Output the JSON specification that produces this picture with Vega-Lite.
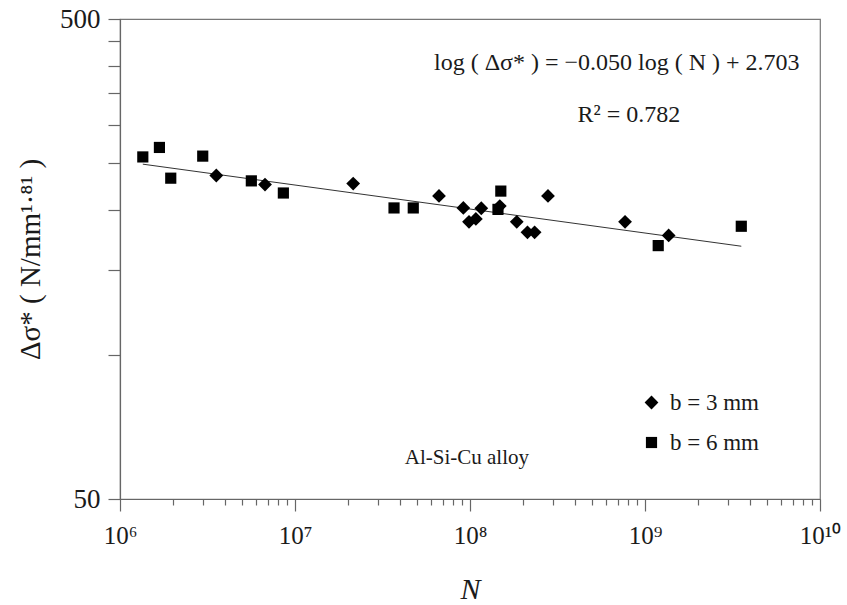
{
  "$schema": "https://vega.github.io/schema/vega-lite/v6.json",
  "width": 700,
  "height": 480,
  "autosize": "none",
  "padding": {"left": 120, "top": 19, "right": 27, "bottom": 106},
  "background": "white",
  "config": {
    "font": "Liberation Serif",
    "view": {"stroke": "#777777", "strokeWidth": 1.2},
    "axis": {
      "grid": false,
      "domainColor": "#666666",
      "domainWidth": 1.2,
      "tickColor": "#666666",
      "tickWidth": 1.2,
      "labelFont": "Liberation Serif",
      "labelColor": "#1a1a1a",
      "titleFont": "Liberation Serif",
      "titleColor": "#1a1a1a",
      "titleFontWeight": "normal",
      "labelFlush": false,
      "labelOverlap": false,
      "labelBound": false
    },
    "legend": {
      "labelFont": "Liberation Serif",
      "labelColor": "#1a1a1a"
    }
  },
  "datasets": {
    "points": [
      {"N": 1350000, "stress": 258, "b": "b = 6 mm"},
      {"N": 1680000, "stress": 270, "b": "b = 6 mm"},
      {"N": 1950000, "stress": 233, "b": "b = 6 mm"},
      {"N": 2970000, "stress": 259, "b": "b = 6 mm"},
      {"N": 5630000, "stress": 230, "b": "b = 6 mm"},
      {"N": 8580000, "stress": 217, "b": "b = 6 mm"},
      {"N": 36800000, "stress": 202, "b": "b = 6 mm"},
      {"N": 47400000, "stress": 202, "b": "b = 6 mm"},
      {"N": 150000000, "stress": 219, "b": "b = 6 mm"},
      {"N": 144500000, "stress": 200.6, "b": "b = 6 mm"},
      {"N": 1190000000, "stress": 168.6, "b": "b = 6 mm"},
      {"N": 3550000000, "stress": 185, "b": "b = 6 mm"},
      {"N": 3550000, "stress": 236, "b": "b = 3 mm"},
      {"N": 6740000, "stress": 226, "b": "b = 3 mm"},
      {"N": 21500000, "stress": 227, "b": "b = 3 mm"},
      {"N": 66500000, "stress": 214, "b": "b = 3 mm"},
      {"N": 91600000, "stress": 202, "b": "b = 3 mm"},
      {"N": 98700000, "stress": 189, "b": "b = 3 mm"},
      {"N": 108000000, "stress": 191.6, "b": "b = 3 mm"},
      {"N": 116000000, "stress": 201.7, "b": "b = 3 mm"},
      {"N": 148000000, "stress": 203.8, "b": "b = 3 mm"},
      {"N": 185000000, "stress": 189, "b": "b = 3 mm"},
      {"N": 213000000, "stress": 179.7, "b": "b = 3 mm"},
      {"N": 234000000, "stress": 179.7, "b": "b = 3 mm"},
      {"N": 279000000, "stress": 214, "b": "b = 3 mm"},
      {"N": 769000000, "stress": 189, "b": "b = 3 mm"},
      {"N": 1365000000, "stress": 177, "b": "b = 3 mm"}
    ],
    "fit": [
      {"N": 1350000, "stress": 249.2},
      {"N": 3550000000, "stress": 168.1}
    ]
  },
  "layer": [
    {
      "data": {"name": "fit"},
      "mark": {"type": "line", "color": "#333333", "strokeWidth": 1},
      "encoding": {
        "x": {
          "field": "N",
          "type": "quantitative",
          "scale": {"type": "log", "domain": [1000000, 10000000000], "nice": false},
          "axis": {
            "orient": "bottom",
            "title": "N",
            "titleFontStyle": "italic",
            "titleFontSize": 30,
            "titleBaseline": "alphabetic",
            "titleY": 99,
            "values": [1000000, 2000000, 3000000, 4000000, 5000000, 6000000, 7000000, 8000000, 9000000,
                       10000000, 20000000, 30000000, 40000000, 50000000, 60000000, 70000000, 80000000, 90000000,
                       100000000, 200000000, 300000000, 400000000, 500000000, 600000000, 700000000, 800000000, 900000000,
                       1000000000, 2000000000, 3000000000, 4000000000, 5000000000, 6000000000, 7000000000, 8000000000, 9000000000,
                       10000000000],
            "labelExpr": "datum.value == 1000000 ? '10⁶' : datum.value == 10000000 ? '10⁷' : datum.value == 100000000 ? '10⁸' : datum.value == 1000000000 ? '10⁹' : datum.value == 10000000000 ? '10¹⁰' : ''",
            "labelFontSize": 25,
            "labelBaseline": "alphabetic",
            "labelPadding": 32,
            "tickSize": {
              "condition": {
                "test": "datum.value == 1000000 || datum.value == 10000000 || datum.value == 100000000 || datum.value == 1000000000 || datum.value == 10000000000",
                "value": 12
              },
              "value": 6
            }
          }
        },
        "y": {
          "field": "stress",
          "type": "quantitative",
          "scale": {"type": "log", "domain": [50, 500], "nice": false},
          "axis": {
            "title": "Δσ* ( N/mm¹·⁸¹ )",
            "titleFontSize": 29,
            "titleBaseline": "alphabetic",
            "titleX": -81,
            "titleAngle": -90,
            "values": [50, 100, 150, 200, 250, 300, 350, 400, 450, 500],
            "labelExpr": "datum.value == 50 ? '50' : datum.value == 500 ? '500' : ''",
            "labelFontSize": 27,
            "labelPadding": 8,
            "tickSize": 12
          }
        }
      }
    },
    {
      "data": {"name": "points"},
      "mark": {"type": "point", "filled": true, "opacity": 1},
      "encoding": {
        "x": {"field": "N", "type": "quantitative"},
        "y": {"field": "stress", "type": "quantitative"},
        "color": {"value": "black"},
        "size": {
          "field": "b",
          "type": "nominal",
          "scale": {"domain": ["b = 3 mm", "b = 6 mm"], "range": [190, 125]},
          "legend": {
            "title": null,
            "orient": "none",
            "legendX": 520,
            "legendY": 372,
            "direction": "vertical",
            "labelFontSize": 23,
            "labelOffset": 7,
            "rowPadding": 16,
            "symbolFillColor": "black",
            "symbolStrokeWidth": 0,
            "padding": 0
          }
        },
        "shape": {
          "field": "b",
          "type": "nominal",
          "scale": {"domain": ["b = 3 mm", "b = 6 mm"], "range": ["diamond", "square"]},
          "legend": {
            "title": null,
            "orient": "none",
            "legendX": 520,
            "legendY": 372,
            "direction": "vertical",
            "labelFontSize": 23,
            "labelOffset": 7,
            "rowPadding": 16,
            "symbolFillColor": "black",
            "symbolStrokeWidth": 0,
            "padding": 0
          }
        }
      }
    },
    {
      "data": {"values": [{}]},
      "mark": {"type": "text", "text": "log ( Δσ* ) = −0.050 log ( N ) + 2.703", "font": "Liberation Serif", "fontSize": 24, "color": "#1a1a1a", "align": "center", "baseline": "middle"},
      "encoding": {
        "x": {"datum": 690000000, "type": "quantitative"},
        "y": {"datum": 405, "type": "quantitative"}
      }
    },
    {
      "data": {"values": [{}]},
      "mark": {"type": "text", "text": "R² = 0.782", "font": "Liberation Serif", "fontSize": 24, "color": "#1a1a1a", "align": "center", "baseline": "middle"},
      "encoding": {
        "x": {"datum": 810000000, "type": "quantitative"},
        "y": {"datum": 315, "type": "quantitative"}
      }
    },
    {
      "data": {"values": [{}]},
      "mark": {"type": "text", "text": "Al-Si-Cu alloy", "font": "Liberation Serif", "fontSize": 21, "color": "#1a1a1a", "align": "center", "baseline": "middle"},
      "encoding": {
        "x": {"datum": 96000000, "type": "quantitative"},
        "y": {"datum": 61, "type": "quantitative"}
      }
    }
  ]
}
